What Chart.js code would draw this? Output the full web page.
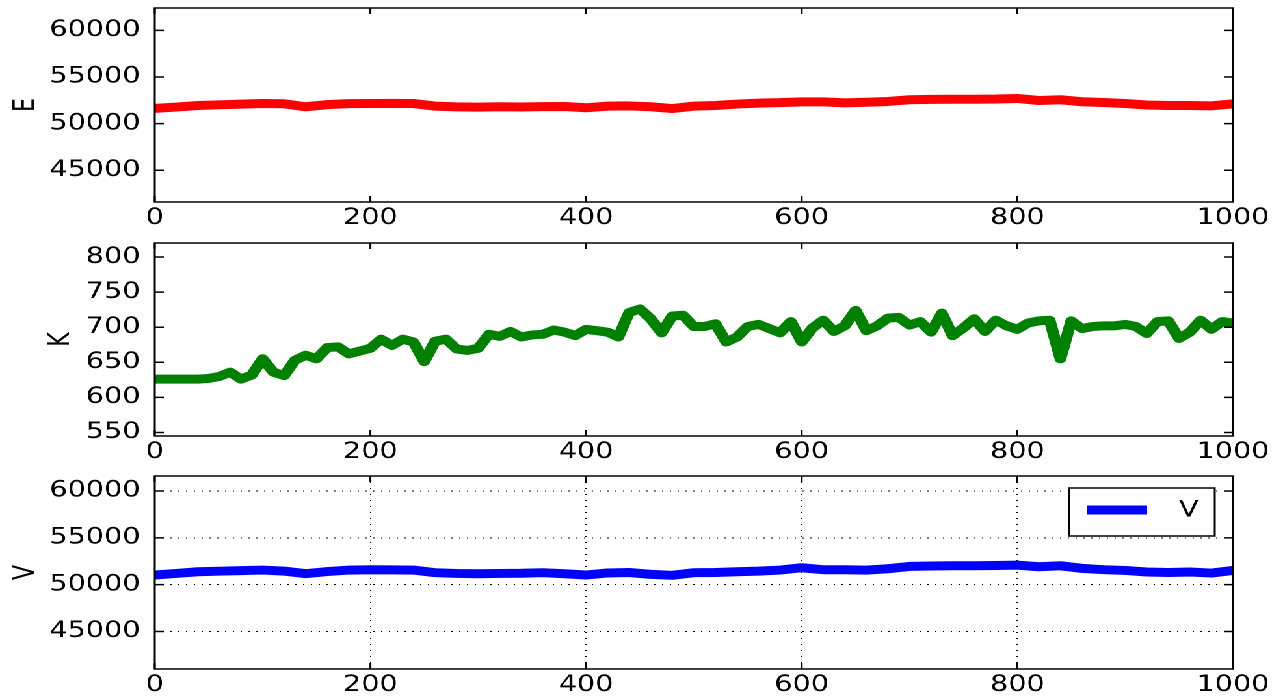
<!DOCTYPE html>
<html>
<head>
<meta charset="utf-8">
<script src="https://cdn.jsdelivr.net/npm/chart.js@4.4.0/dist/chart.umd.min.js"></script>
<style>
  html, body { margin: 0; padding: 0; background: #fff; }
  /* the original figure is stretched sideways, so draw narrow and stretch */
  #wrap { position: relative; width: 978px; height: 700px; transform: scaleX(1.3006); transform-origin: 0 0; }
  #wrap canvas { position: absolute; left: 0; }
</style>
</head>
<body>
<div id="wrap">
  <canvas id="chartE" width="978" height="233" style="top:0px"></canvas>
  <canvas id="chartK" width="978" height="233" style="top:233px"></canvas>
  <canvas id="chartV" width="978" height="234" style="top:466px"></canvas>
</div>
<script>
// x ticks shared by all panels
const xTicks = [0, 200, 400, 600, 800, 1000];
const bigTicks = [45000, 50000, 55000, 60000];
const kTicks = [550, 600, 650, 700, 750, 800];

// E and V read every 20 steps
const smoothSteps = [
  0, 20, 40, 60, 80, 100, 120, 140, 160, 180,
  200, 220, 240, 260, 280, 300, 320, 340, 360, 380,
  400, 420, 440, 460, 480, 500, 520, 540, 560, 580,
  600, 620, 640, 660, 680, 700, 720, 740, 760, 780,
  800, 820, 840, 860, 880, 900, 920, 940, 960, 980,
  1000
];
const eValues = [
  51630, 51780, 51950, 52020, 52100, 52160, 52130, 51810, 52040, 52150,
  52160, 52180, 52160, 51880, 51800, 51770, 51810, 51780, 51820, 51840,
  51700, 51880, 51900, 51810, 51620, 51880, 51950, 52100, 52200, 52250,
  52340, 52340, 52230, 52300, 52380, 52560, 52600, 52620, 52620, 52640,
  52700, 52480, 52560, 52350, 52270, 52160, 52000, 51950, 51950, 51910,
  52130
];
const vValues = [
  51030, 51200, 51380, 51440, 51500, 51560, 51450, 51170, 51400, 51560,
  51600, 51580, 51560, 51280, 51200, 51170, 51200, 51220, 51280, 51170,
  51030, 51250, 51300, 51100, 51000, 51280, 51300, 51380, 51450, 51560,
  51810, 51600, 51600, 51550, 51700, 51950, 52000, 52020, 52020, 52050,
  52090, 51910, 52020, 51740, 51600, 51520, 51350, 51300, 51350, 51240,
  51520
];

// K read every 10 steps
const kSteps = [
  0, 10, 20, 30, 40, 50, 60, 70, 80, 90,
  100, 110, 120, 130, 140, 150, 160, 170, 180, 190,
  200, 210, 220, 230, 240, 250, 260, 270, 280, 290,
  300, 310, 320, 330, 340, 350, 360, 370, 380, 390,
  400, 410, 420, 430, 440, 450, 460, 470, 480, 490,
  500, 510, 520, 530, 540, 550, 560, 570, 580, 590,
  600, 610, 620, 630, 640, 650, 660, 670, 680, 690,
  700, 710, 720, 730, 740, 750, 760, 770, 780, 790,
  800, 810, 820, 830, 840, 850, 860, 870, 880, 890,
  900, 910, 920, 930, 940, 950, 960, 970, 980, 990,
  1000
];
const kValues = [
  626, 626, 626, 626, 626, 627, 630, 636, 626, 632,
  655, 636, 631, 653, 660, 655, 671, 672, 662, 666,
  670, 683, 674, 683, 679, 651, 680, 683, 669, 667,
  670, 690, 687, 694, 686, 689, 690, 696, 693, 688,
  697, 695, 693, 686, 721, 726, 712, 692, 716, 717,
  701, 701, 705, 679, 686, 701, 704, 698, 692, 708,
  679, 699, 710, 694, 702, 724, 695, 702, 713, 714,
  703, 708, 693, 720, 688, 699, 712, 694, 710, 702,
  697, 706, 709, 710, 655, 709, 698, 701, 702, 702,
  704, 701, 691, 708, 709, 684, 693, 710, 697, 708,
  706
];

const FONT = "'DejaVu Sans', sans-serif";

// box around the plot and inward ticks on all four sides
const framePlugin = {
  id: 'frame',
  afterDraw(chart) {
    const { ctx, chartArea: a, scales: { x, y } } = chart;
    ctx.save();
    ctx.strokeStyle = '#000';
    ctx.lineWidth = 1.5;
    ctx.beginPath();
    x.ticks.forEach(t => {
      const px = x.getPixelForValue(t.value);
      ctx.moveTo(px, a.bottom); ctx.lineTo(px, a.bottom - 6);
      ctx.moveTo(px, a.top); ctx.lineTo(px, a.top + 6);
    });
    y.ticks.forEach(t => {
      const py = y.getPixelForValue(t.value);
      ctx.moveTo(a.left, py); ctx.lineTo(a.left + 7, py);
      ctx.moveTo(a.right, py); ctx.lineTo(a.right - 7, py);
    });
    ctx.stroke();
    ctx.strokeRect(a.left, a.top, a.width, a.height);
    ctx.restore();
  }
};

// matplotlib style legend in the upper right corner
const boxLegend = {
  id: 'boxLegend',
  afterDraw(chart) {
    const { ctx, chartArea: a } = chart;
    const ds = chart.data.datasets[0];
    const w = 112, h = 48;
    const x0 = a.right - 14 - w, y0 = a.top + 12;
    ctx.save();
    ctx.fillStyle = '#fff';
    ctx.fillRect(x0, y0, w, h);
    ctx.strokeStyle = '#000';
    ctx.lineWidth = 1.5;
    ctx.strokeRect(x0, y0, w, h);
    ctx.strokeStyle = ds.borderColor;
    ctx.lineWidth = 9;
    ctx.beginPath();
    ctx.moveTo(x0 + 14, y0 + 22);
    ctx.lineTo(x0 + 60, y0 + 22);
    ctx.stroke();
    ctx.fillStyle = '#000';
    ctx.font = '22px ' + FONT;
    ctx.textAlign = 'center';
    ctx.textBaseline = 'middle';
    ctx.fillText(ds.label, x0 + 92, y0 + 23);
    ctx.restore();
  }
};

function panel(id, o) {
  return new Chart(document.getElementById(id), {
    type: 'line',
    data: {
      datasets: [{
        label: o.label,
        data: o.xs.map((x, i) => ({ x: x, y: o.ys[i] })),
        borderColor: o.color,
        borderWidth: 9,
        borderJoinStyle: 'round',
        pointRadius: 0,
        tension: 0,
        clip: 0
      }]
    },
    options: {
      responsive: false,
      animation: false,
      devicePixelRatio: 2,
      layout: { padding: { top: o.padTop, right: 30, left: 0, bottom: 0 } },
      plugins: { legend: { display: false }, tooltip: { enabled: false } },
      scales: {
        x: {
          type: 'linear', min: 0, max: 1000,
          afterBuildTicks: s => { s.ticks = xTicks.map(v => ({ value: v })); },
          afterFit: s => { s.height = o.axisH; s.paddingLeft = 0; s.paddingRight = 0; },
          grid: { display: o.grid, drawTicks: false, color: '#000', lineWidth: 1 },
          border: { display: false, dash: [1, 5] },
          ticks: {
            color: '#000', padding: 3, maxRotation: 0, autoSkip: false,
            font: { family: FONT, size: 22 },
            callback: v => String(v)
          }
        },
        y: {
          min: o.min, max: o.max,
          afterBuildTicks: s => { s.ticks = o.ticks.map(v => ({ value: v })); },
          afterFit: s => { s.width = 119; s.paddingTop = 0; s.paddingBottom = 0; },
          grid: { display: o.grid, drawTicks: false, color: '#000', lineWidth: 1 },
          border: { display: false, dash: [1, 5] },
          title: {
            display: true, text: o.label, color: '#000',
            font: { family: FONT, size: 22 },
            padding: { top: o.titlePad, bottom: 0 }
          },
          ticks: {
            color: '#000', padding: 11, autoSkip: false,
            font: { family: FONT, size: 22 },
            callback: v => String(v)
          }
        }
      }
    },
    plugins: o.legend ? [framePlugin, boxLegend] : [framePlugin]
  });
}

panel('chartE', {
  label: 'E', xs: smoothSteps, ys: eValues, color: '#ff0000',
  min: 41600, max: 62400, ticks: bigTicks,
  padTop: 8, axisH: 31, titlePad: 7, grid: false, legend: false
});
panel('chartK', {
  label: 'K', xs: kSteps, ys: kValues, color: '#008000',
  min: 545, max: 820, ticks: kTicks,
  padTop: 10, axisH: 30, titlePad: 34, grid: false, legend: false
});
panel('chartV', {
  label: 'V', xs: smoothSteps, ys: vValues, color: '#0000ff',
  min: 41000, max: 61600, ticks: bigTicks,
  padTop: 10, axisH: 31, titlePad: 7, grid: true, legend: true
});
</script>
</body>
</html>
